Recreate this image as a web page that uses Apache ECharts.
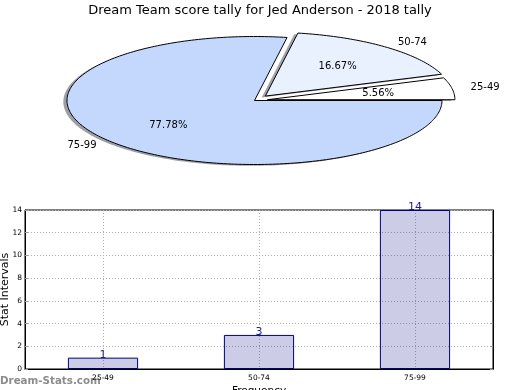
<!DOCTYPE html>
<html><head><meta charset="utf-8">
<script src="https://cdn.jsdelivr.net/npm/echarts@6/dist/echarts.min.js"></script>
<style>html,body{margin:0;padding:0;background:#fff}#c{width:520px;height:390px}</style>
</head><body><div id="c"></div>
<script>
const titleText = 'Dream Team score tally for Jed Anderson - 2018 tally';
const categories = ['25-49', '50-74', '75-99'];
const counts = [1, 3, 14];
const pctLabels = ['5.56%', '16.67%', '77.78%'];
const explode = [0.07, 0.09, 0];
const yTicks = [0, 2, 4, 6, 8, 10, 12, 14];

const pieFill = ['#ffffff', '#e9f0fe', '#c4d8fe'];
const FONT = 'DejaVu Sans';
const total = counts.reduce((a, b) => a + b, 0);

function pieItem(params, api) {
  const i = params.dataIndex;
  const v = api.value(1);
  let before = 0;
  for (let k = 0; k < i; k++) before += counts[k];
  const a0 = before / total * 2 * Math.PI;
  const a1 = (before + v) / total * 2 * Math.PI;
  const mid = (a0 + a1) / 2;
  const CX = 254.5, CY = 100.5, RX = 187.5, RY = 64;
  const ex = explode[i];
  const cx = CX + ex * RX * Math.cos(mid);
  const cy = CY - ex * RY * Math.sin(mid);
  const pts = [[cx, cy]];
  const n = Math.max(8, Math.ceil((a1 - a0) / 0.02));
  for (let s = 0; s <= n; s++) {
    const a = a0 + (a1 - a0) * s / n;
    pts.push([cx + RX * Math.cos(a), cy - RY * Math.sin(a)]);
  }
  const sh = pts.map(p => [p[0] - 3.7, p[1] + 1.3]);
  const c = echarts.color.parse(pieFill[i]);
  const shadowColor = 'rgba(' + Math.round(c[0] * 0.3) + ',' + Math.round(c[1] * 0.3) + ',' + Math.round(c[2] * 0.3) + ',0.5)';
  const lx = cx + 1.1 * RX * Math.cos(mid), ly = cy - 1.1 * RY * Math.sin(mid);
  const px = cx + 0.6 * RX * Math.cos(mid), py = cy - 0.6 * RY * Math.sin(mid);
  return {
    type: 'group',
    children: [
      {type: 'polygon', z2: 1, shape: {points: sh}, style: {fill: shadowColor}},
      {type: 'polygon', z2: 10, shape: {points: pts}, style: {fill: pieFill[i], stroke: '#000', lineWidth: 1}},
      {type: 'text', z2: 20, style: {x: lx, y: ly, text: categories[i], fill: '#000', font: '10px "' + FONT + '"',
        align: Math.cos(mid) >= 0 ? 'left' : 'right', verticalAlign: 'middle'}},
      {type: 'text', z2: 20, style: {x: px, y: py, text: pctLabels[i], fill: '#000', font: '10px "' + FONT + '"',
        align: 'center', verticalAlign: 'middle'}}
    ]
  };
}

const chart = echarts.init(document.getElementById('c'), null, {renderer: 'canvas'});
chart.setOption({
  animation: false,
  backgroundColor: '#fff',
  textStyle: {fontFamily: FONT},
  title: {text: titleText, left: 'center', top: -1,
    textStyle: {fontFamily: FONT, fontSize: 13, fontWeight: 'normal', color: '#000'}},
  graphic: [{type: 'text', left: 0, top: 376,
    style: {text: 'Dream-Stats.com', fill: '#8c8c8c', font: 'bold 10.3px "' + FONT + '"'}}],
  grid: {left: 25, right: 27, top: 210, bottom: 21, show: true, borderColor: '#000', borderWidth: 1,
    containLabel: false, outerBoundsMode: 'none'},
  xAxis: {
    type: 'category', data: categories, boundaryGap: true,
    name: 'Frequency', nameLocation: 'middle', nameGap: 17, nameMoveOverlap: false,
    nameTextStyle: {fontFamily: FONT, fontSize: 10.5, color: '#000'},
    axisLine: {lineStyle: {color: '#000'}},
    axisTick: {show: false},
    axisLabel: {fontFamily: FONT, fontSize: 7.5, color: '#000', margin: 5},
    splitLine: {show: true, alignWithLabel: true, lineStyle: {type: [1, 2], color: '#b0b0b0'}}
  },
  yAxis: [{
    type: 'value', min: yTicks[0], max: yTicks[yTicks.length - 1], interval: 2,
    name: 'Stat Intervals', nameLocation: 'middle', nameGap: 14, nameMoveOverlap: false,
    nameTextStyle: {fontFamily: FONT, fontSize: 11, color: '#000'},
    axisLine: {show: true, lineStyle: {color: '#000'}},
    axisTick: {show: true, inside: true, length: 3, lineStyle: {color: '#999'}},
    axisLabel: {fontFamily: FONT, fontSize: 7.5, color: '#000', margin: 3},
    splitLine: {show: true, lineStyle: {type: [1, 2], color: '#b0b0b0'}}
  }, {
    type: 'value', position: 'right', min: yTicks[0], max: yTicks[yTicks.length - 1], interval: 2,
    axisLine: {show: true, lineStyle: {color: '#000'}},
    axisTick: {show: true, inside: true, length: 3, lineStyle: {color: '#999'}},
    axisLabel: {show: false}, splitLine: {show: false}
  }],
  series: [{
    type: 'bar', data: counts, barWidth: '45%', yAxisIndex: 0,
    itemStyle: {color: 'rgba(0,0,128,0.2)', borderColor: '#000080', borderWidth: 1},
    label: {show: true, position: 'top', distance: -3, color: '#1c1c8f', fontFamily: FONT, fontSize: 11}
  }, {
    type: 'custom', coordinateSystem: 'none',
    data: counts.map((v, i) => [i, v]),
    renderItem: pieItem
  }]
});
</script></body></html>
